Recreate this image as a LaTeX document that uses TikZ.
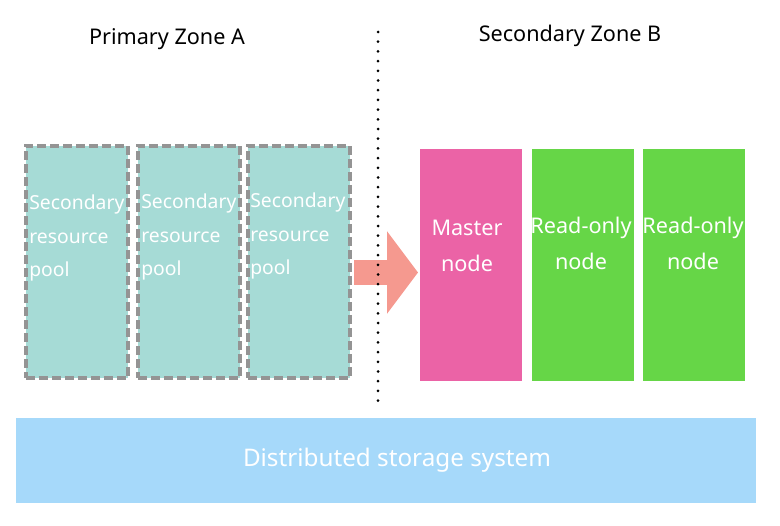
\documentclass[tikz,border=0pt]{standalone}
\usepackage{fontspec}
\setmainfont{Noto Sans}
\usepackage{tikz}
\usetikzlibrary{arrows.meta}
\definecolor{mteal}{rgb}{0.65, 0.86, 0.84}
\definecolor{mgray}{rgb}{0.58, 0.58, 0.58}
\definecolor{msalmon}{rgb}{0.96, 0.6, 0.56}
\definecolor{mpink}{rgb}{0.92, 0.39, 0.65}
\definecolor{mgreen}{rgb}{0.4, 0.84, 0.28}
\definecolor{mblue}{rgb}{0.65, 0.85, 0.98}
\tikzset{pool/.style = {draw=mgray, line width=0.08cm, dash pattern=on 0.18cm off 0.08cm,
                        fill=mteal, minimum width=2.04cm, minimum height=4.64cm, inner sep=0}}
\tikzset{pooltext/.style = {anchor=west, text=white, align=left, inner sep=0,
                            font=\fontsize{11}{18.8}\selectfont}}
\tikzset{srv/.style = {minimum width=2.04cm, minimum height=4.64cm, inner sep=0}}
\tikzset{srvtext/.style = {text=white, align=center, inner sep=0,
                           font=\fontsize{12.3}{20.3}\selectfont}}
\tikzset{zone/.style = {font=\fontsize{12.3}{14}\selectfont}}

\begin{document}
\begin{tikzpicture}
    \useasboundingbox (0, 0) rectangle (15.6, 10.5);

    \node [zone] (zoneA) at (3.34, 9.72) {Primary Zone A};
    \node [zone] (zoneB) at (11.4, 9.78) {Secondary Zone B};

    \node [pool] (pool1) at (1.53, 5.27) {};
    \node [pool] (pool2) at (3.78, 5.27) {};
    \node [pool] (pool3) at (5.98, 5.27) {};
    \node [pooltext] (txt1) at (0.58, 5.74) {Secondary\\resource\\pool};
    \node [pooltext] (txt2) at (2.82, 5.76) {Secondary\\resource\\pool};
    \node [pooltext] (txt3) at (5.0, 5.78) {Secondary\\resource\\pool};

    \node [srv, fill=mpink] (master) at (9.42, 5.2) {};
    \node [srv, fill=mgreen] (ro1) at (11.66, 5.2) {};
    \node [srv, fill=mgreen] (ro2) at (13.88, 5.2) {};
    \node [srvtext] (mtxt) at (9.34, 5.58) {Master\\node};
    \node [srvtext] (rtxt1) at (11.62, 5.63) {Read-only\\node};
    \node [srvtext] (rtxt2) at (13.86, 5.63) {Read-only\\node};

    \coordinate (tip) at (8.36, 5.05);
    \draw [msalmon, line width=0.5cm, -{Triangle[length=0.62cm, width=1.62cm]}]
        (pool3.east |- tip) ++(0.04, 0) -- (tip);

    % divider between the zones
    \coordinate (divtop) at (7.56, 9.86);
    \coordinate (divbot) at (7.56, 2.3);
    \draw [line width=0.06cm, line cap=round, dash pattern=on 0pt off 0.194cm] (divtop) -- (divbot);

    \node [fill=mblue, minimum width=14.8cm, minimum height=1.7cm,
           label={[text=white, xshift=0.22cm, font=\fontsize{13.8}{16}\selectfont]center:Distributed storage system}]
        (storage) at (7.72, 1.29) {};
\end{tikzpicture}
\end{document}
